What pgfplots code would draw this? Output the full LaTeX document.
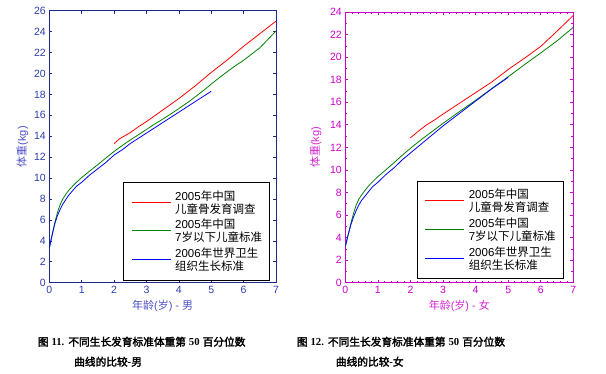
\documentclass[border=0pt]{standalone}
\usepackage{pgfplots}
\pgfplotsset{compat=1.18}
\usepackage{pgfplotstable}
\usepackage{fontspec}
\setmainfont{Liberation Sans}
\newfontfamily\cjk{Noto Sans CJK SC}
\newfontfamily\cjkb[FakeBold=2.4]{Noto Sans CJK SC}
\newfontfamily\tnr{Liberation Serif}
\newcommand\CB[1]{{\cjkb\mdseries #1}}
\newcommand\TB[1]{{\tnr\bfseries #1}}
\definecolor{laxis}{RGB}{30,40,140}
\definecolor{ltick}{RGB}{45,60,175}
\definecolor{llab}{RGB}{80,80,200}
\definecolor{raxis}{RGB}{200,0,200}
\definecolor{rtick}{RGB}{204,0,204}
\definecolor{rlab}{RGB}{210,40,210}
\definecolor{cred}{RGB}{255,0,0}
\definecolor{cgreen}{RGB}{0,128,0}
\definecolor{cblue}{RGB}{0,0,255}

% boys
\pgfplotstableread{
m w
24 13.3
26 13.75
30 14.35
33 14.9
36 15.4
42 16.5
48 17.6
54 18.8
60 20.1
66 21.3
72 22.6
78 23.8
84 25.0
}\boysred
\pgfplotstableread{
m w
0 3.32
1 4.51
2 5.68
3 6.70
4 7.45
5 8.00
6 8.41
7 8.76
8 9.05
9 9.33
10 9.58
11 9.83
12 10.05
15 10.68
18 11.29
21 11.93
24 12.54
27 13.11
30 13.64
33 14.14
36 14.65
39 15.16
42 15.63
45 16.13
48 16.64
51 17.18
54 17.75
57 18.35
60 18.98
63 19.60
66 20.18
69 20.75
72 21.26
78 22.45
84 24.06
}\boysgreen
\pgfplotstableread{
m w
0 3.3
1 4.5
2 5.6
3 6.4
4 7.0
5 7.5
6 7.9
7 8.3
8 8.6
9 8.9
10 9.2
11 9.4
12 9.6
15 10.3
18 10.9
21 11.5
24 12.2
27 12.7
30 13.3
33 13.8
36 14.3
39 14.8
42 15.3
45 15.8
48 16.3
51 16.8
54 17.3
57 17.8
60 18.3
}\boysblue
% girls
\pgfplotstableread{
m w
24 12.85
27 13.45
30 14.0
33 14.45
36 14.95
42 15.9
48 16.85
54 17.8
60 18.9
66 19.9
72 20.95
78 22.3
84 23.7
}\girlsred
\pgfplotstableread{
m w
0 3.21
1 4.20
2 5.21
3 6.13
4 6.87
5 7.42
6 7.77
7 8.11
8 8.41
9 8.69
10 8.94
11 9.18
12 9.40
15 10.02
18 10.65
21 11.30
24 11.92
27 12.50
30 13.05
33 13.59
36 14.13
42 15.16
48 16.17
54 17.22
60 18.26
66 19.33
72 20.37
78 21.44
84 22.64
}\girlsgreen
\pgfplotstableread{
m w
0 3.2
1 4.2
2 5.1
3 5.8
4 6.4
5 6.9
6 7.3
7 7.6
8 7.9
9 8.2
10 8.5
11 8.7
12 8.9
15 9.6
18 10.2
21 10.9
24 11.5
27 12.1
30 12.7
33 13.3
36 13.9
42 15.0
48 16.1
54 17.2
60 18.2
}\girlsblue

\newcommand\legfont{\fontsize{11.5bp}{14bp}\selectfont}

\pgfplotsset{
  panel/.style={
    scale only axis,
    anchor=south west,
    xmin=0, xmax=7,
    xtick={0,...,7},
    tick align=inside,
    major tick length=3bp,
    minor tick length=2bp,
    /pgf/number format/assume math mode=true,
    ticklabel style={font=\fontsize{10.5bp}{12bp}\selectfont},
    label style={font=\fontsize{11bp}{13bp}\selectfont},
    xlabel style={at={(axis description cs:0.5,0)}, anchor=north, yshift=-17bp, inner sep=0pt},
    legend cell align=left,
    legend style={anchor=north east, draw=black, line width=0.8bp, fill=white,
      inner xsep=7.5bp, inner ysep=8bp, row sep=4.5bp, column sep=4bp,
      font=\legfont,
      nodes={align=left, inner sep=0pt, font=\legfont}},
    legend image code/.code={\draw[##1] (0bp,0.5bp) -- (39bp,0.5bp);},
    every axis plot/.append style={line width=0.8bp},
  }
}

\begin{document}
\begin{tikzpicture}[x=1bp,y=1bp]
\path[use as bounding box] (0,0) rectangle (606,373);

\begin{axis}[panel,
  at={(49.3bp,90.3bp)}, width=226.7bp, height=272bp,
  ymin=0, ymax=26, ytick={0,2,...,26},
  axis line style={laxis, line width=0.8bp},
  every tick/.style={laxis, line width=0.6bp},
  ticklabel style={ltick},
  xlabel={{\cjk 年龄}({\cjk 岁}) - {\cjk 男}},
  ylabel={{\cjk 体重}(kg)},
  xlabel style={llab},
  ylabel style={llab, at={(axis description cs:-0.092,0.5)}, rotate=0, anchor=south, inner sep=0pt},
  legend style={at={(axis description cs:0.9735,0.370)}},
]
\addplot[cred, no marks] table[x expr=\thisrow{m}/12, y=w] {\boysred};
\addlegendentry{2005{\cjk 年中国}\\[-1bp]{\cjk 儿童骨发育调查}}
\addplot[cgreen, no marks] table[x expr=\thisrow{m}/12, y=w] {\boysgreen};
\addlegendentry{2005{\cjk 年中国}\\[-1bp]7{\cjk 岁以下儿童标准}}
\addplot[cblue, no marks] table[x expr=\thisrow{m}/12, y=w] {\boysblue};
\addlegendentry{2006{\cjk 年世界卫生}\\[-1bp]{\cjk 组织生长标准}}
\end{axis}

\begin{axis}[panel,
  at={(345.3bp,90.3bp)}, width=228bp, height=270.7bp,
  ymin=0, ymax=24, ytick={0,2,...,24},
  minor x tick num=4, minor y tick num=1,
  axis line style={raxis, line width=0.8bp},
  every tick/.style={raxis, line width=0.6bp},
  ticklabel style={rtick},
  xlabel={{\cjk 年龄}({\cjk 岁}) - {\cjk 女}},
  ylabel={{\cjk 体重}(kg)},
  xlabel style={rlab},
  ylabel style={rlab, at={(axis description cs:-0.1035,0.5)}, rotate=0, anchor=south, inner sep=0pt},
  legend style={at={(axis description cs:0.9575,0.377)}},
]
\addplot[cred, no marks] table[x expr=\thisrow{m}/12, y=w] {\girlsred};
\addlegendentry{2005{\cjk 年中国}\\[-1bp]{\cjk 儿童骨发育调查}}
\addplot[cgreen, no marks] table[x expr=\thisrow{m}/12, y=w] {\girlsgreen};
\addlegendentry{2005{\cjk 年中国}\\[-1bp]7{\cjk 岁以下儿童标准}}
\addplot[cblue, no marks] table[x expr=\thisrow{m}/12, y=w] {\girlsblue};
\addlegendentry{2006{\cjk 年世界卫生}\\[-1bp]{\cjk 组织生长标准}}
\end{axis}

\begin{scope}[every node/.style={inner sep=0pt, font=\fontsize{10.7bp}{13bp}\selectfont}]
\node[anchor=base west] at (37.7,27.2) {\CB{图} \TB{11.} \CB{不同生长发育标准体重第} \TB{50} \CB{百分位数}};
\node[anchor=base west] at (74,7.2) {\CB{曲线的比较}\TB{-}\CB{男}};
\node[anchor=base west] at (296.7,27.2) {\CB{图} \TB{12.} \CB{不同生长发育标准体重第} \TB{50} \CB{百分位数}};
\node[anchor=base west] at (335.7,7.2) {\CB{曲线的比较}\TB{-}\CB{女}};
\end{scope}
\end{tikzpicture}
\end{document}
